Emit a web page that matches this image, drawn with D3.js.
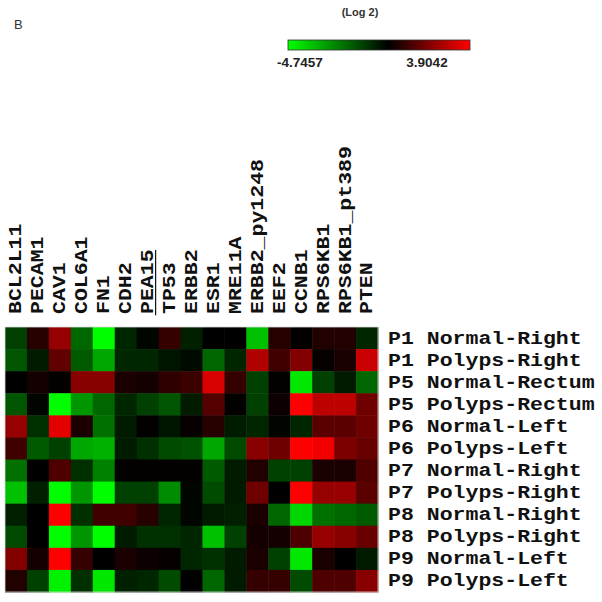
<!DOCTYPE html>
<html>
<head>
<meta charset="utf-8">
<script src="https://cdn.jsdelivr.net/npm/d3@7"></script>
<style>
  body { margin: 0; background: #fff; }
  svg { display: block; }
</style>
</head>
<body>
<svg id="heatmap" width="602" height="602"></svg>
<script>
// column genes / antibodies
const genes = ["BCL2L11", "PECAM1", "CAV1", "COL6A1", "FN1", "CDH2", "PEA15", "TP53",
  "ERBB2", "ESR1", "MRE11A", "ERBB2_py1248", "EEF2", "CCNB1", "RPS6KB1",
  "RPS6KB1_pt389", "PTEN"];

const samples = ["P1 Normal-Right", "P1 Polyps-Right", "P5 Normal-Rectum", "P5 Polyps-Rectum",
  "P6 Normal-Left", "P6 Polyps-Left", "P7 Normal-Right", "P7 Polyps-Right",
  "P8 Normal-Right", "P8 Polyps-Right", "P9 Normal-Left", "P9 Polyps-Left"];

// log2 values, one row per sample
const values = [
  [-1.2, 0.6, 2.3, -1.9, -4.7, -0.7, -0.1, 0.8, -0.6, 0, 0, -3.6, 0.6, 0.05, 0.5, 0.5, -0.7],
  [-1.6, -0.5, 1.5, -1.7, -3.1, -0.7, -0.7, -0.4, -0.2, -1.9, -0.7, 2.7, 1.0, 2.0, 0.1, 0.4, 3.1],
  [0, 0.3, 0.05, 2.1, 2.1, 0.4, 0.3, 0.7, 0.9, 3.3, 0.8, -1.2, 0.05, -4.3, -1.2, -0.5, -1.9],
  [-1.6, -0.1, -4.7, -2.8, -1.9, -0.7, -1.2, -1.6, -0.5, 1.3, 0.05, -1.2, 0.2, 3.9, 2.9, 2.9, 1.7],
  [2.3, -0.9, 3.5, 0.4, -2.1, -0.5, 0.05, -0.4, 0.1, 0.6, -0.5, -0.7, -0.1, -0.7, 1.4, 1.4, 1.7],
  [1.0, -1.7, -1.2, -3.1, -3.3, -0.5, -0.9, -1.4, -1.5, -3.1, -1.4, 2.1, 1.7, 3.9, 3.7, 1.9, 1.6],
  [-2.1, 0, 1.2, -0.9, -2.4, 0.05, 0.05, 0.05, 0.05, -1.7, -0.5, 0.5, -1.2, -1.2, 0.4, 0.4, 1.2],
  [-3.6, -0.6, -4.7, -2.8, -4.7, -1.2, -1.2, -2.6, -0.1, -1.4, -0.5, 1.7, 0, 3.9, 2.3, 2.3, 1.4],
  [-0.6, 0, 3.9, -0.9, 1.0, 1.0, 0.6, -0.7, -0.1, -0.5, -0.6, 0.4, -1.9, -4.0, -2.1, -1.9, -1.7],
  [-1.4, 0, -4.7, -2.8, -4.7, -0.5, -0.9, -0.9, -0.7, -3.6, -1.2, 0.3, 0.3, 1.2, 2.3, 2.1, 1.6],
  [2.0, 0.3, 3.9, 0.8, 0, 0.4, 0.2, 0.1, -0.7, -0.9, -0.5, 0.4, -1.2, -4.3, 0.4, 0, -0.5],
  [0.5, -1.2, -4.5, -0.9, -4.3, -0.6, -0.7, -1.4, 0, -1.9, -0.5, 0.8, 0.8, -1.4, 1.2, 1.2, 2.1]
];

const scaleMin = -4.7457;
const scaleMax = 3.9042;
const legendLabels = ["-4.7457", "3.9042"];

const svg = d3.select("#heatmap");
const monoFont = "'Liberation Mono', 'DejaVu Sans Mono', monospace";

//scales
let x = d3.scaleBand().domain(genes).range([5, 378]).padding(0);
let y = d3.scaleBand().domain(samples).range([327, 592]).padding(0);
let color = d3.scaleLinear()
  .domain([scaleMin, 0, scaleMax])
  .range(["#00ff00", "#000000", "#ff0000"])
  .clamp(true);

// cells
let cells = [];
values.forEach((row, i) => {
  row.forEach((v, j) => cells.push({ sample: samples[i], gene: genes[j], v: v }));
});

svg.append("g")
  .selectAll("rect")
  .data(cells)
  .enter()
  .append("rect")
  .attr("x", d => x(d.gene))
  .attr("y", d => y(d.sample))
  .attr("width", x.bandwidth() + 0.5)
  .attr("height", y.bandwidth() + 0.5)
  .attr("fill", d => color(d.v));

svg.append("rect")
  .attr("x", 5).attr("y", 327)
  .attr("width", 373).attr("height", 265)
  .attr("fill", "none")
  .attr("stroke", "#d8d8d8")
  .attr("stroke-width", 0.8);

// row labels
svg.append("g")
  .selectAll("g")
  .data(samples)
  .enter()
  .append("g")
  .attr("transform", d => "translate(388," + (y(d) + y.bandwidth() / 2 + 1) + ") scale(1.23,1)")
  .append("text")
  .attr("dominant-baseline", "central")
  .style("font-family", monoFont)
  .style("font-weight", "bold")
  .style("font-size", "17.5px")
  .attr("fill", "#111")
  .text(d => d);

// column labels
let colLab = svg.append("g")
  .selectAll("g")
  .data(genes)
  .enter()
  .append("g")
  .attr("transform", d => "translate(" + (x(d) + x.bandwidth() / 2 + 1) + ",314) rotate(-90) scale(1.23,1)");

colLab.append("text")
  .attr("dominant-baseline", "central")
  .style("font-family", monoFont)
  .style("font-weight", "bold")
  .style("font-size", "17.5px")
  .attr("fill", "#111")
  .text(d => d);

// PEA15 is underlined in the original
colLab.filter(d => d === "PEA15")
  .append("line")
  .attr("x1", -1).attr("x2", 52)
  .attr("y1", 7).attr("y2", 7)
  .attr("stroke", "#111")
  .attr("stroke-width", 1.2);

// legend
let legendX = d3.scaleLinear().domain([scaleMin, scaleMax]).range([288, 470]);
let defs = svg.append("defs");
let grad = defs.append("linearGradient").attr("id", "legend-grad");
grad.selectAll("stop")
  .data(color.domain())
  .enter()
  .append("stop")
  .attr("offset", d => ((legendX(d) - 288) / 182 * 100) + "%")
  .attr("stop-color", d => color(d));

svg.append("rect")
  .attr("x", legendX(scaleMin))
  .attr("y", 40)
  .attr("width", legendX(scaleMax) - legendX(scaleMin))
  .attr("height", 10)
  .attr("fill", "url(#legend-grad)")
  .attr("stroke", "#333")
  .attr("stroke-width", 0.8);

svg.append("text")
  .attr("x", 300).attr("y", 67)
  .attr("text-anchor", "middle")
  .style("font-family", "'Liberation Sans', Arial, sans-serif")
  .style("font-weight", "bold")
  .style("font-size", "13.5px")
  .attr("fill", "#222")
  .text(legendLabels[0]);

svg.append("text")
  .attr("x", 427).attr("y", 67)
  .attr("text-anchor", "middle")
  .style("font-family", "'Liberation Sans', Arial, sans-serif")
  .style("font-weight", "bold")
  .style("font-size", "13.5px")
  .attr("fill", "#222")
  .text(legendLabels[1]);

svg.append("text")
  .attr("x", 360).attr("y", 16)
  .attr("text-anchor", "middle")
  .style("font-family", "'Liberation Sans', Arial, sans-serif")
  .style("font-weight", "bold")
  .style("font-size", "11px")
  .attr("fill", "#333")
  .text("(Log 2)");

svg.append("text")
  .attr("x", 14).attr("y", 29)
  .style("font-family", "'Liberation Sans', Arial, sans-serif")
  .style("font-size", "13px")
  .attr("fill", "#333")
  .text("B");
</script>
</body>
</html>
